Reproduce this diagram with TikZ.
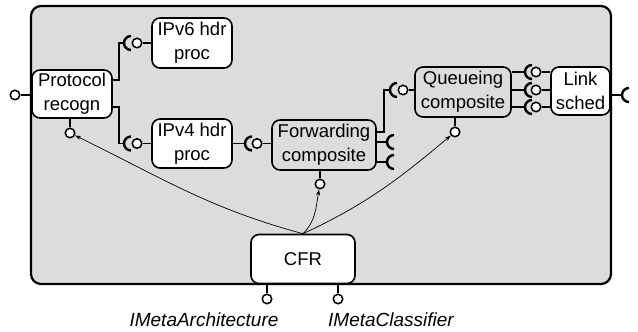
\documentclass[tikz,border=0pt]{standalone}
\usepackage{fontspec}
\setmainfont{Liberation Sans}
\usetikzlibrary{arrows.meta,calc,positioning}
\definecolor{Panel}{HTML}{DCDCDC}

% cup of a required interface, opening to the right
\newcommand{\sockt}[2]{%
  \coordinate (#1) at (#2);
  \draw[socket] ($(#1)+(7,7)$) arc[start angle=90,end angle=270,radius=7];}

\begin{document}
\begin{tikzpicture}[x=1pt,y=1pt,
    box/.style={draw,line width=1.6pt,rounded corners=8pt,align=center,
      inner sep=0pt,font=\fontsize{18.5}{24}\selectfont},
    comp/.style={box,fill=Panel},
    plain/.style={box,fill=white},
    ball/.style={circle,draw,fill=white,line width=1.5pt,inner sep=0pt,
      minimum size=9.5pt},
    wire/.style={line width=1.6pt},
    socket/.style={line width=2.4pt},
    meta/.style={-{Stealth[length=6pt,width=4pt]},line width=0.7pt},
    iface/.style={font=\fontsize{19}{21}\selectfont\itshape}]
  \useasboundingbox (0,0) rectangle (638,332);
  \draw[line width=2.2pt,fill=Panel,rounded corners=10pt]
    (31,48) rectangle (611,326);

  \node[plain,minimum width=80pt,minimum height=48pt] (pr) at (72,238)
    {Protocol\\recogn};
  \node[plain,minimum width=80pt,minimum height=50pt] (v6) at (192,289)
    {IPv6 hdr\\proc};
  \node[plain,minimum width=80pt,minimum height=49pt] (v4) at (192,188.5)
    {IPv4 hdr\\proc};
  \node[comp,minimum width=104pt,minimum height=50pt] (fw) at (324,187)
    {Forwarding\\composite};
  \node[comp,minimum width=96pt,minimum height=50pt] (qu) at (463,240)
    {Queueing\\composite};
  \node[plain,minimum width=59pt,minimum height=48pt] (ls) at (580.5,241)
    {Link\\sched};
  \node[plain,minimum width=104pt,minimum height=49pt] (cfr) at (303,73)
    {CFR};

  \sockt{v6s}{124,289}
  \sockt{v4s}{124,188.5}
  \sockt{fws}{245,188.5}
  \sockt{qus}{390,242}
  \sockt{fwoa}{387,190}
  \sockt{fwob}{387,170}
  \sockt{lsout}{622,237}
  \foreach \y/\n in {260/a,242/b,225/c}
    \sockt{lss\n}{525,\y};

  \node[ball] (prin) at (15,237) {};
  \node[ball] (prmeta) at (70,199) {};
  \node[ball] (v6in) at (137,289) {};
  \node[ball] (v4in) at (137,188.5) {};
  \node[ball] (fwin) at (257,188.5) {};
  \node[ball] (fwmeta) at (320,148) {};
  \node[ball] (quin) at (403,242) {};
  \node[ball] (qumeta) at (455,200) {};
  \foreach \y/\n in {260/a,242/b,225/c}
    \node[ball] (ls\n) at (536,\y) {};
  \node[ball] (arch) at (267,33) {};
  \node[ball] (clsf) at (338,33) {};

  \coordinate (pr6) at ($(pr.east)+(0,14)$);
  \coordinate (pr4) at ($(pr.east)+(0,-13)$);
  \coordinate (fwq) at ($(fw.east)+(0,13)$);
  \draw[wire] (prin) -- (prin -| pr.west);
  \draw[wire] (prmeta) -- (prmeta |- pr.south);
  \draw[wire] (pr6) -- ++(6,0) |- (v6s);
  \draw[wire] (pr4) -- ++(6,0) |- (v4s);
  \draw[wire] (v6in) -- (v6in -| v6.west);
  \draw[wire] (v4in) -- (v4in -| v4.west);
  \draw[wire] (v4.east |- fws) -- (fws);
  \draw[wire] (fwin) -- (fwin -| fw.west);
  \draw[wire] (fwmeta) -- (fwmeta |- fw.south);
  \draw[wire] (fwq) -- ++(7,0) |- (qus);
  \draw[wire] (fw.east |- fwoa) -- (fwoa);
  \draw[wire] (fw.east |- fwob) -- (fwob);
  \draw[wire] (quin) -- (quin -| qu.west);
  \draw[wire] (qumeta) -- (qumeta |- qu.south);
  \foreach \n in {a,b,c} {
    \draw[wire] (qu.east |- lss\n) -- (lss\n);
    \draw[wire] (ls\n) -- (ls\n -| ls.west);
  }
  \draw[wire] (ls.east |- lsout) -- (lsout);
  \draw[wire] (arch) -- (arch |- cfr.south);
  \draw[wire] (clsf) -- (clsf |- cfr.south);

  \draw[meta] (cfr.north) to[out=165,in=-26] (prmeta);
  \draw[meta] (cfr.north) to[out=45,in=-100] (fwmeta);
  \draw[meta] (cfr.north) to[out=25,in=220] (qumeta);

  \node[iface] (archlab) at (204,12) {IMetaArchitecture};
  \node[iface] (clsflab) at (391,12) {IMetaClassifier};
\end{tikzpicture}
\end{document}
